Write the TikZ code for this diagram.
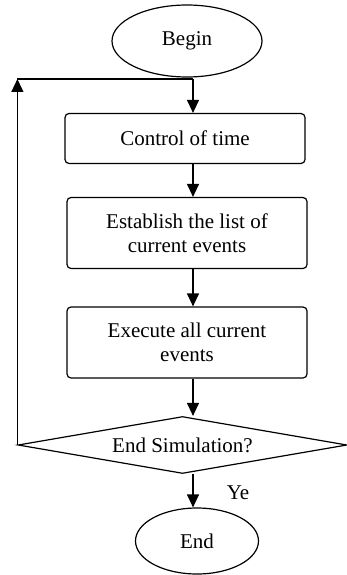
\documentclass[tikz,border=0pt]{standalone}
\usepackage{fontspec}
\setmainfont{Liberation Serif}
\usetikzlibrary{arrows.meta,shapes.geometric}
\tikzset{
  flowtext/.style={font=\fontsize{21}{24}\selectfont},
  terminal/.style={ellipse,draw,flowtext,inner sep=0pt},
  procbox/.style={rectangle,draw,rounded corners=4pt,flowtext,align=center,minimum width=240pt},
  decision/.style={diamond,draw,flowtext,inner sep=0pt,aspect=5.77,minimum width=329pt,minimum height=57pt},
}

\begin{document}
\begin{tikzpicture}[x=1pt,y=-1pt,line width=1.2pt,>={Triangle[length=13pt,width=12pt]}]
  \useasboundingbox (0,0) rectangle (347,575);
  \node[terminal,minimum width=150pt,minimum height=72pt] (begin) at (187,41) {Begin};
  \coordinate (join) at (193,79);
  \node[procbox,minimum height=50pt] (time) at (185,138.5) {Control of time};
  \node[procbox,minimum height=71pt] (list) at (187,233) {Establish the list of\\current events};
  \node[procbox,minimum height=71pt] (exec) at (187,342.5) {Execute all current\\events};
  \node[decision] (sim) at (182.5,445) {\raisebox{-5pt}{End Simulation?}};
  \node[terminal,minimum width=123pt,minimum height=66pt] (end) at (197,541) {End};
  \node[flowtext] (yes) at (238,493) {Ye};
  \coordinate (loop) at (sim.west |- join);
  % main flow
  \draw[->] (join) -- (time.north -| join);
  \draw[->] (time.south -| join) -- (list.north -| join);
  \draw[->] (list.south -| join) -- (exec.north -| join);
  \draw[->] (exec.south -| join) -- (sim.north -| join);
  \draw[->] (sim.south -| join) -- (end.north -| join);
  % back loop
  \draw[->] (sim.west) -- (loop);
  \draw (loop) -- (join);
\end{tikzpicture}
\end{document}
